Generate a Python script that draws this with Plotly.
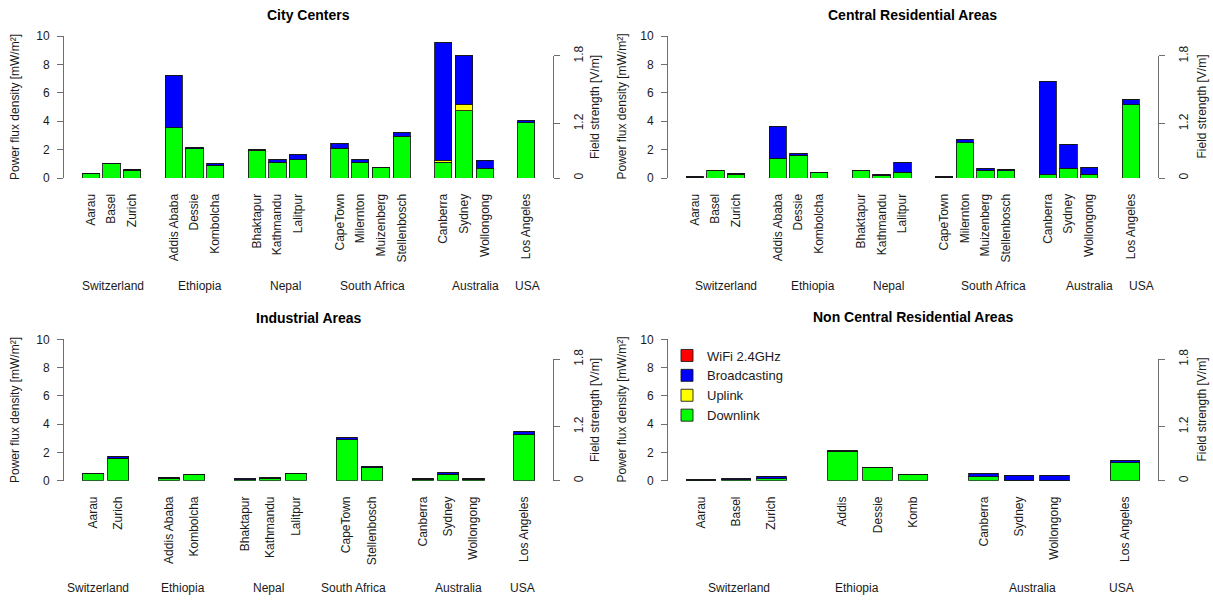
import math
import plotly.graph_objects as go

# ---------------------------------------------------------------------------
# Mean RF exposure (power flux density, mW/m²) by service band and city.
# "" marks a spacer slot between countries.
# ---------------------------------------------------------------------------
TITLES = ["City Centers", "Central Residential Areas",
          "Industrial Areas", "Non Central Residential Areas"]
BANDS = ["Downlink", "Uplink", "Broadcasting", "WiFi 2.4GHz"]   # stack order, bottom first
BAND_COLORS = ["#00FF00", "#FFFF00", "#0000FF", "#FF0000"]

# City centers
cc_cities = ["Aarau", "Basel", "Zurich", "",
             "Addis Ababa", "Dessie", "Kombolcha", "",
             "Bhaktapur", "Kathmandu", "Lalitpur", "",
             "CapeTown", "Milernton", "Muizenberg", "Stellenbosch", "",
             "Canberra", "Sydney", "Wollongong", "",
             "Los Angeles"]
cc_downlink = [0.30, 1.00, 0.55, None, 3.55, 2.05, 0.90, None, 1.95, 1.10, 1.30, None,
               2.10, 1.10, 0.77, 2.93, None, 1.10, 4.73, 0.68, None, 3.90]
cc_uplink = [0, 0, 0, None, 0, 0, 0, None, 0, 0, 0, None,
             0, 0, 0, 0, None, 0.15, 0.47, 0, None, 0]
cc_broadcast = [0.05, 0.05, 0.08, None, 3.70, 0.12, 0.10, None, 0.03, 0.20, 0.35, None,
                0.30, 0.20, 0, 0.30, None, 8.28, 3.40, 0.56, None, 0.12]
cc_wifi = [0, 0, 0, None, 0, 0, 0, None, 0, 0, 0, None,
           0, 0, 0, 0, None, 0, 0, 0, None, 0]
cc_countries = ["Switzerland", "Ethiopia", "Nepal", "South Africa", "Australia", "USA"]

# Central residential areas
cr_cities = list(cc_cities)
cr_downlink = [0.05, 0.54, 0.27, None, 1.40, 1.60, 0.38, None, 0.52, 0.20, 0.40, None,
               0.04, 2.50, 0.54, 0.50, None, 0.23, 0.70, 0.26, None, 5.15]
cr_uplink = [0, 0, 0, None, 0, 0, 0, None, 0, 0, 0, None,
             0, 0, 0, 0, None, 0, 0, 0, None, 0]
cr_broadcast = [0.07, 0, 0.08, None, 2.23, 0.10, 0.02, None, 0.02, 0.06, 0.72, None,
                0.08, 0.19, 0.12, 0.11, None, 6.60, 1.69, 0.51, None, 0.40]
cr_wifi = [0, 0, 0, None, 0, 0, 0, None, 0, 0, 0, None,
           0, 0, 0, 0, None, 0, 0, 0, None, 0]
cr_countries = list(cc_countries)

# Industrial areas
ind_cities = ["Aarau", "Zurich", "",
              "Addis Ababa", "Kombolcha", "",
              "Bhaktapur", "Kathmandu", "Lalitpur", "",
              "CapeTown", "Stellenbosch", "",
              "Canberra", "Sydney", "Wollongong", "",
              "Los Angeles"]
ind_downlink = [0.50, 1.60, None, 0.18, 0.45, None, 0.08, 0.18, 0.48, None,
                2.90, 0.92, None, 0.10, 0.45, 0.10, None, 3.30]
ind_uplink = [0, 0, None, 0, 0, None, 0, 0, 0, None, 0, 0, None, 0, 0, 0, None, 0]
ind_broadcast = [0.02, 0.10, None, 0.08, 0, None, 0.06, 0.03, 0.02, None,
                 0.12, 0.10, None, 0.08, 0.12, 0.08, None, 0.20]
ind_wifi = [0, 0, None, 0, 0, None, 0, 0, 0, None, 0, 0, None, 0, 0, 0, None, 0]
ind_countries = list(cc_countries)

# Non central residential areas
ncr_cities = ["Aarau", "Basel", "Zurich", "",
              "Addis", "Dessie", "Komb", "",
              "Canberra", "Sydney", "Wollongong", "",
              "Los Angeles"]
ncr_downlink = [0.03, 0.08, 0.15, None, 2.10, 0.92, 0.45, None, 0.28, 0.02, 0.02, None, 1.28]
ncr_uplink = [0, 0, 0, None, 0, 0, 0, None, 0, 0, 0, None, 0]
ncr_broadcast = [0.02, 0.04, 0.18, None, 0.03, 0.02, 0, None, 0.20, 0.38, 0.38, None, 0.12]
ncr_wifi = [0, 0, 0, None, 0, 0, 0, None, 0, 0, 0, None, 0]
ncr_countries = ["Switzerland", "Ethiopia", "Australia", "USA"]

# Left axis ticks (mW/m²) and right axis ticks (V/m)
PFD_TICKS = [0, 2, 4, 6, 8, 10]
FIELD_TICKS = [0, 1.2, 1.8]
FIELD_TICK_TEXT = ["0", "1.2", "1.8"]

# ---------------------------------------------------------------------------
# Layout (pixels in a 1213 x 601 canvas)
# ---------------------------------------------------------------------------
W, H = 1213, 601
FONT = "Liberation Sans, Arial, Helvetica, sans-serif"
TEXT = "#1a1a1a"
AXIS = "#6e6e6e"
Z0 = 377.0  # free-space impedance, ohm


def pfd_from_field(e):
    """Power flux density in mW/m² for a field strength in V/m."""
    return e * e / Z0 * 1000.0


PANELS = [
    dict(title=TITLES[0], cities=cc_cities,
         bands=[cc_downlink, cc_uplink, cc_broadcast, cc_wifi],
         countries=cc_countries, country_x=[1.05, 5.26, 9.37, 13.57, 18.56, 21.08],
         box=(64, 553, 36, 178), title_y=15, country_y=286,
         ylab_x=15, yrlab_x=595),
    dict(title=TITLES[1], cities=cr_cities,
         bands=[cr_downlink, cr_uplink, cr_broadcast, cr_wifi],
         countries=cr_countries, country_x=[1.51, 5.71, 9.31, 14.41, 19.0, 21.5],
         box=(668, 1157.5, 36, 178), title_y=15, country_y=286,
         ylab_x=621.5, yrlab_x=1201.5),
    dict(title=TITLES[2], cities=ind_cities,
         bands=[ind_downlink, ind_uplink, ind_broadcast, ind_wifi],
         countries=ind_countries, country_x=[0.22, 3.57, 6.93, 10.26, 14.4, 16.94],
         box=(64, 553, 339.3, 480.7), title_y=318, country_y=588,
         ylab_x=15, yrlab_x=595),
    dict(title=TITLES[3], cities=ncr_cities,
         bands=[ncr_downlink, ncr_uplink, ncr_broadcast, ncr_wifi],
         countries=ncr_countries, country_x=[1.08, 4.42, 9.38, 11.89],
         box=(668, 1158, 339.3, 480.7), title_y=317, country_y=588,
         ylab_x=621.5, yrlab_x=1201.5),
]


def px_x(x):
    return x / W


def px_y(y):
    return 1 - y / H


fig = go.Figure()
layout = dict(
    width=W, height=H, autosize=False,
    margin=dict(l=0, r=0, t=0, b=0, pad=0),
    paper_bgcolor="white", plot_bgcolor="rgba(0,0,0,0)",
    barmode="stack", bargap=1 / 6,
    font=dict(family=FONT, size=12, color=TEXT),
    showlegend=True,
    legend=dict(x=px_x(667), y=px_y(340.5), xanchor="left", yanchor="top",
                traceorder="reversed", bgcolor="rgba(0,0,0,0)",
                font=dict(size=13, color=TEXT), itemwidth=30,
                itemclick=False, itemdoubleclick=False),
)
annotations = []

Y_MAX = PFD_TICKS[-1]
E_TOP = pfd_from_field(FIELD_TICKS[-1])

for k, p in enumerate(PANELS, start=1):
    sfx = "" if k == 1 else str(k)
    xref, yref, yrref = f"x{sfx}", f"y{sfx}", f"y{k + 4}"
    x0, x1, ytop, ybot = p["box"]
    n = len(p["cities"])
    xs = list(range(n))

    # bars, stacked bottom to top
    for band, color, vals in zip(BANDS, BAND_COLORS, p["bands"]):
        fig.add_trace(go.Bar(
            x=xs, y=vals, name=band, xaxis=xref, yaxis=yref,
            marker=dict(color=color, line=dict(color="rgba(20,20,20,0.85)", width=1)),
            showlegend=(k == 4), hoverinfo="skip"))

    # placeholder so the field-strength axis is drawn for this panel
    fig.add_trace(go.Scatter(x=[None], y=[None], xaxis=xref, yaxis=yrref,
                             showlegend=False, hoverinfo="skip"))

    # x range padded 4% in the way R's barplot does (width 1, space 0.2)
    d = 0.04 * (1.2 * n - 0.2)
    xr = [(0.2 - d - 0.7) / 1.2, (1.2 * n + d - 0.7) / 1.2]
    tick_idx = [i for i, c in enumerate(p["cities"]) if c]

    layout[f"xaxis{sfx}"] = dict(
        domain=[px_x(x0), px_x(x1)], anchor=yref, range=xr, automargin=False,
        showline=False, showgrid=False, zeroline=False,
        tickmode="array", tickvals=tick_idx,
        ticktext=[p["cities"][i] for i in tick_idx],
        tickangle=-90, ticks="outside", ticklen=10, tickcolor="rgba(0,0,0,0)",
        tickfont=dict(size=12, color=TEXT), fixedrange=True)

    layout[f"yaxis{sfx}"] = dict(
        domain=[px_y(ybot), px_y(ytop)], anchor=xref, range=[0, Y_MAX], automargin=False,
        showline=True, linecolor=AXIS, linewidth=1,
        showgrid=False, zeroline=False,
        tickmode="array", tickvals=PFD_TICKS, ticktext=[str(t) for t in PFD_TICKS],
        ticks="outside", ticklen=6, tickcolor=AXIS, tickwidth=1,
        ticklabelstandoff=5,
        tickfont=dict(size=12, color=TEXT), fixedrange=True)

    # field-strength axis: its line spans 0 .. top tick only
    rtop = ybot - (ybot - ytop) * E_TOP / Y_MAX
    layout[f"yaxis{k + 4}"] = dict(
        domain=[px_y(ybot), px_y(rtop)], anchor=xref, side="right",
        range=[0, E_TOP], automargin=False,
        showline=True, linecolor=AXIS, linewidth=1,
        showgrid=False, zeroline=False,
        tickmode="array", tickvals=[pfd_from_field(e) for e in FIELD_TICKS],
        ticktext=FIELD_TICK_TEXT, tickangle=-90,
        ticks="outside", ticklen=6, tickcolor=AXIS, tickwidth=1,
        ticklabelstandoff=9,
        tickfont=dict(size=12, color=TEXT), fixedrange=True)

    # panel title
    annotations.append(dict(
        text=f"<b>{p['title']}</b>", x=px_x((x0 + x1) / 2), y=px_y(p["title_y"]),
        xref="paper", yref="paper", showarrow=False,
        xanchor="center", yanchor="middle", font=dict(size=14, color="#000")))

    # axis titles
    ymid = px_y((ytop + ybot) / 2)
    annotations.append(dict(
        text="Power flux density [mW/m²]", x=px_x(p["ylab_x"]), y=ymid,
        xref="paper", yref="paper", showarrow=False, textangle=-90,
        xanchor="center", yanchor="middle", font=dict(size=12, color=TEXT)))
    annotations.append(dict(
        text="Field strength [V/m]", x=px_x(p["yrlab_x"]), y=ymid,
        xref="paper", yref="paper", showarrow=False, textangle=-90,
        xanchor="center", yanchor="middle", font=dict(size=12, color=TEXT)))

    # country labels under each group of cities
    for name, cx in zip(p["countries"], p["country_x"]):
        annotations.append(dict(
            text=name, x=cx, y=px_y(p["country_y"]), xref=xref, yref="paper",
            showarrow=False, xanchor="center", yanchor="middle",
            font=dict(size=12, color=TEXT)))

layout["annotations"] = annotations
fig.update_layout(**layout)

fig.write_html("out.html", config={"displayModeBar": False})
